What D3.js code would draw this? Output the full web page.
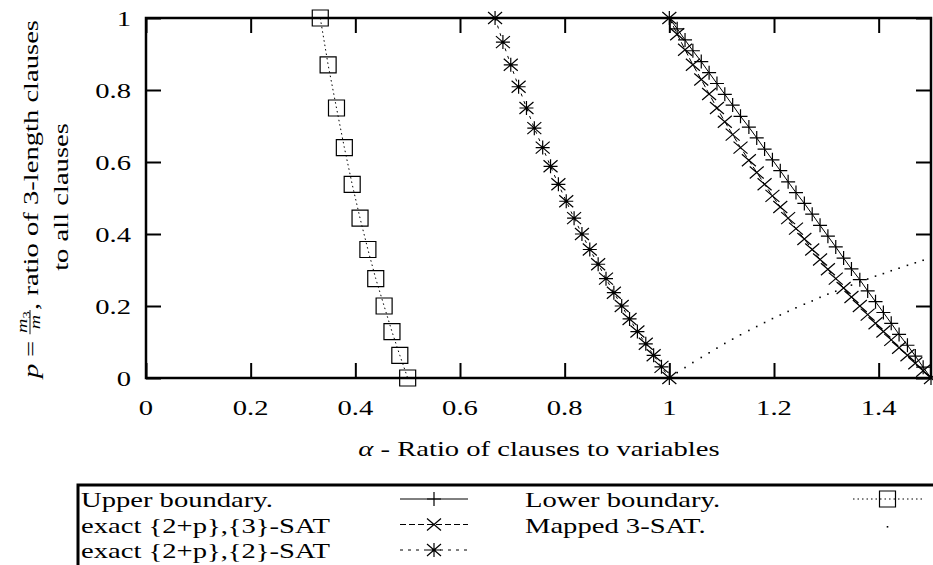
<!DOCTYPE html>
<html><head><meta charset="utf-8">
<script src="https://cdn.jsdelivr.net/npm/d3@7"></script>
<style>
html,body{margin:0;padding:0;background:#fff;}
svg{display:block;}
svg text{font-family:"Liberation Serif","DejaVu Serif","Times New Roman",Times,serif;}
</style></head><body>
<svg id="chart" width="933" height="565"></svg>
<script>
// Lower boundary (squares, dotted)
const lowerAlpha = [0.333, 0.348, 0.364, 0.379, 0.394, 0.409, 0.424, 0.439, 0.455, 0.470, 0.485, 0.500];
const lowerP     = [1.000, 0.870, 0.750, 0.640, 0.538, 0.444, 0.357, 0.276, 0.200, 0.129, 0.063, 0.000];

// exact {2+p},{2}-SAT (stars, dashed)
const sat2Alpha = [0.667,0.682,0.697,0.712,0.727,0.742,0.758,0.773,0.788,0.803,0.818,0.833,0.848,0.864,0.879,0.894,0.909,0.924,0.939,0.955,0.970,0.985,1.000];
const sat2P     = [1.000,0.933,0.870,0.809,0.750,0.694,0.640,0.588,0.538,0.491,0.444,0.400,0.357,0.316,0.276,0.237,0.200,0.164,0.129,0.095,0.063,0.031,0.000];

// alpha grid shared by the three right-hand series
const rightAlpha = [1.000,1.015,1.030,1.045,1.061,1.076,1.091,1.106,1.121,1.136,1.152,1.167,1.182,1.197,1.212,1.227,1.242,
                    1.258,1.273,1.288,1.303,1.318,1.333,1.348,1.364,1.379,1.394,1.409,1.424,1.439,1.455,1.470,1.485,1.500];
// Upper boundary (plus, solid)
const upperP = [1.000,0.970,0.939,0.909,0.879,0.848,0.818,0.788,0.758,0.727,0.697,0.667,0.636,0.606,0.576,0.545,0.515,
                0.485,0.455,0.424,0.394,0.364,0.333,0.303,0.273,0.242,0.212,0.182,0.152,0.121,0.091,0.061,0.030,0.000];
// exact {2+p},{3}-SAT (cross, dashed)
const sat3P  = [1.000,0.955,0.912,0.870,0.829,0.789,0.750,0.712,0.676,0.640,0.605,0.571,0.538,0.506,0.475,0.444,0.415,
                0.386,0.357,0.329,0.302,0.276,0.250,0.225,0.200,0.176,0.152,0.129,0.106,0.084,0.063,0.041,0.020,0.000];
// Mapped 3-SAT (dots)
const mappedP = [0.000,0.015,0.029,0.043,0.057,0.070,0.083,0.096,0.108,0.120,0.132,0.143,0.154,0.165,0.175,0.185,0.195,
                 0.205,0.214,0.224,0.233,0.241,0.250,0.258,0.267,0.275,0.283,0.290,0.298,0.305,0.313,0.320,0.327,0.333];

const xTickValues = [0, 0.2, 0.4, 0.6, 0.8, 1.0, 1.2, 1.4];
const xTickLabels = ["0", "0.2", "0.4", "0.6", "0.8", "1", "1.2", "1.4"];
const yTickValues = [0, 0.2, 0.4, 0.6, 0.8, 1.0];
const yTickLabels = ["0", "0.2", "0.4", "0.6", "0.8", "1"];

const FS = 21.5;
const svg = d3.select("#chart");
const x = d3.scaleLinear().domain([0, 1.5]).range([146, 931]);
const y = d3.scaleLinear().domain([0, 1]).range([378, 18]);

// horizontal widening so the text runs as wide as a Computer Modern setting
const probe = svg.append("text").attr("font-size", FS).text("Upper boundary.");
const SX = Math.min(1.35, Math.max(0.85, 192 / probe.node().getComputedTextLength()));
probe.remove();

const zip = (a, b) => a.map((v, i) => [v, b[i]]);
const line = d3.line().x(d => x(d[0])).y(d => y(d[1]));

function label(parent, px, py, parts, anchor) {
  const t = parent.append("text")
    .attr("transform", `translate(${px},${py}) scale(${SX},1)`)
    .attr("font-size", FS)
    .attr("fill", "#000")
    .attr("text-anchor", anchor || "start");
  parts.forEach(p => {
    const s = t.append("tspan").text(p[0]);
    if (p[1]) s.style("font-style", "italic");
  });
  return t;
}

function markerPath(type, cx, cy) {
  const r = 7, ry = 6;
  const plus = `M${cx - r},${cy}H${cx + r}M${cx},${cy - r}V${cy + r}`;
  const cross = `M${cx - r},${cy - ry}L${cx + r},${cy + ry}M${cx - r},${cy + ry}L${cx + r},${cy - ry}`;
  if (type === "plus") return plus;
  if (type === "cross") return cross;
  if (type === "star") return plus + cross;
  if (type === "square") return `M${cx - 8},${cy - 8}h16v16h-16Z`;
  return "";
}
function drawMarkers(g, pts, type) {
  if (type === "dot") {
    g.selectAll(null).data(pts).enter().append("rect")
      .attr("x", d => x(d[0]) - 0.8).attr("y", d => y(d[1]) - 0.8)
      .attr("width", 1.6).attr("height", 1.6).attr("fill", "#000");
    return;
  }
  g.selectAll(null).data(pts).enter().append("path")
    .attr("d", d => markerPath(type, x(d[0]), y(d[1])))
    .attr("fill", "none").attr("stroke", "#000").attr("stroke-width", 1.2);
}

// axes: inward ticks on all four sides
const tickLen = 15;
const axes = svg.append("g");
axes.append("g").attr("transform", "translate(0,378)")
  .call(d3.axisBottom(x).tickValues(xTickValues).tickSize(-tickLen).tickFormat("").tickSizeOuter(0));
axes.append("g").attr("transform", "translate(0,18)")
  .call(d3.axisTop(x).tickValues(xTickValues).tickSize(-tickLen).tickFormat("").tickSizeOuter(0));
axes.append("g").attr("transform", "translate(146,0)")
  .call(d3.axisLeft(y).tickValues(yTickValues).tickSize(-tickLen).tickFormat("").tickSizeOuter(0));
axes.append("g").attr("transform", "translate(931,0)")
  .call(d3.axisRight(y).tickValues(yTickValues).tickSize(-tickLen).tickFormat("").tickSizeOuter(0));
axes.selectAll(".domain").remove();
axes.selectAll(".tick line").attr("stroke", "#000").attr("stroke-width", 2);

// plot frame
svg.append("rect").attr("x", 146).attr("y", 18).attr("width", 931 - 146).attr("height", 378 - 18)
  .attr("fill", "none").attr("stroke", "#000").attr("stroke-width", 2.5);

// tick labels
xTickValues.forEach((v, i) => label(svg, x(v), 415, [[xTickLabels[i]]], "middle"));
yTickValues.forEach((v, i) => label(svg, 131, y(v) + 7.5, [[yTickLabels[i]]], "end"));

// x axis title
label(svg, 539, 456, [["α", true], [" - Ratio of clauses to variables"]], "middle");

// y axis title (two rotated lines, the first with a fraction)
(function () {
  const g1 = svg.append("g").attr("transform", "translate(38,199) rotate(-90)");
  const inner = g1.append("g");
  let cx = 0;
  const tp = inner.append("text").attr("x", cx).attr("font-size", FS).style("font-style", "italic").text("p");
  cx += tp.node().getComputedTextLength() + 5;
  const te = inner.append("text").attr("x", cx).attr("font-size", FS).text("=");
  cx += te.node().getComputedTextLength() + 5;
  const num = inner.append("text").attr("y", -11).attr("font-size", 15);
  num.append("tspan").style("font-style", "italic").text("m");
  num.append("tspan").attr("font-size", 11).attr("dy", 3).text("3");
  const den = inner.append("text").attr("y", 2).attr("font-size", 15).style("font-style", "italic").text("m");
  const nw = num.node().getComputedTextLength(), dw = den.node().getComputedTextLength();
  const fw = Math.max(nw, dw) + 2;
  num.attr("x", cx + (fw - nw) / 2);
  den.attr("x", cx + (fw - dw) / 2);
  inner.append("line").attr("x1", cx).attr("x2", cx + fw).attr("y1", -8).attr("y2", -8)
    .attr("stroke", "#000").attr("stroke-width", 0.9);
  cx += fw;
  const tr = inner.append("text").attr("x", cx).attr("font-size", FS).text(", ratio of 3-length clauses");
  cx += tr.node().getComputedTextLength();
  inner.attr("transform", `translate(${-cx * SX / 2},0) scale(${SX},1)`);

  const g2 = svg.append("g").attr("transform", "translate(68,197) rotate(-90)");
  label(g2, 0, 0, [["to all clauses"]], "middle");
})();

// series
const plot = svg.append("g");
const lowerPts = zip(lowerAlpha, lowerP);
const sat2Pts = zip(sat2Alpha, sat2P);
const upperPts = zip(rightAlpha, upperP);
const sat3Pts = zip(rightAlpha, sat3P);
const mappedPts = zip(rightAlpha, mappedP);

plot.append("path").attr("d", line(upperPts)).attr("fill", "none").attr("stroke", "#000").attr("stroke-width", 1);
drawMarkers(plot.append("g"), upperPts, "plus");

plot.append("path").attr("d", line(sat3Pts)).attr("fill", "none").attr("stroke", "#000").attr("stroke-width", 1)
  .attr("stroke-dasharray", "6,3");
drawMarkers(plot.append("g"), sat3Pts, "cross");

plot.append("path").attr("d", line(sat2Pts)).attr("fill", "none").attr("stroke", "#000").attr("stroke-width", 1)
  .attr("stroke-dasharray", "3,5");
drawMarkers(plot.append("g"), sat2Pts, "star");

plot.append("path").attr("d", line(lowerPts)).attr("fill", "none").attr("stroke", "#000").attr("stroke-width", 1)
  .attr("stroke-dasharray", "1.5,3");
drawMarkers(plot.append("g"), lowerPts, "square");

drawMarkers(plot.append("g"), mappedPts, "dot");

// legend
const leg = svg.append("g");
leg.append("path").attr("d", "M78,566V485H934").attr("fill", "none").attr("stroke", "#000").attr("stroke-width", 3);

const legendRows = [
  { text: [["Upper boundary."]], col: 0, row: 0, dash: null, marker: "plus" },
  { text: [["exact {2+p},{3}-SAT"]], col: 0, row: 1, dash: "6,3", marker: "cross" },
  { text: [["exact {2+p},{2}-SAT"]], col: 0, row: 2, dash: "3,5", marker: "star" },
  { text: [["Lower boundary."]], col: 1, row: 0, dash: "1.5,3", marker: "square" },
  { text: [["Mapped 3-SAT."]], col: 1, row: 1, dash: "none", marker: "dot" }
];
const rowY = [499, 524.5, 550];
const colText = [81, 525];
const colSample = [[400, 468], [853, 922]];
legendRows.forEach(r => {
  const cy = rowY[r.row];
  label(leg, colText[r.col], cy + 8, r.text, "start");
  const [sx0, sx1] = colSample[r.col];
  const mx = (sx0 + sx1) / 2;
  if (r.dash !== "none") {
    const ln = leg.append("line").attr("x1", sx0).attr("x2", sx1).attr("y1", cy).attr("y2", cy)
      .attr("stroke", "#000").attr("stroke-width", 1);
    if (r.dash) ln.attr("stroke-dasharray", r.dash);
  }
  if (r.marker === "dot") {
    leg.append("rect").attr("x", mx - 0.8).attr("y", cy + 1.5).attr("width", 1.6).attr("height", 1.6).attr("fill", "#000");
  } else {
    leg.append("path").attr("d", markerPath(r.marker, mx, cy)).attr("fill", "none")
      .attr("stroke", "#000").attr("stroke-width", 1.2);
  }
});
</script>
</body></html>
